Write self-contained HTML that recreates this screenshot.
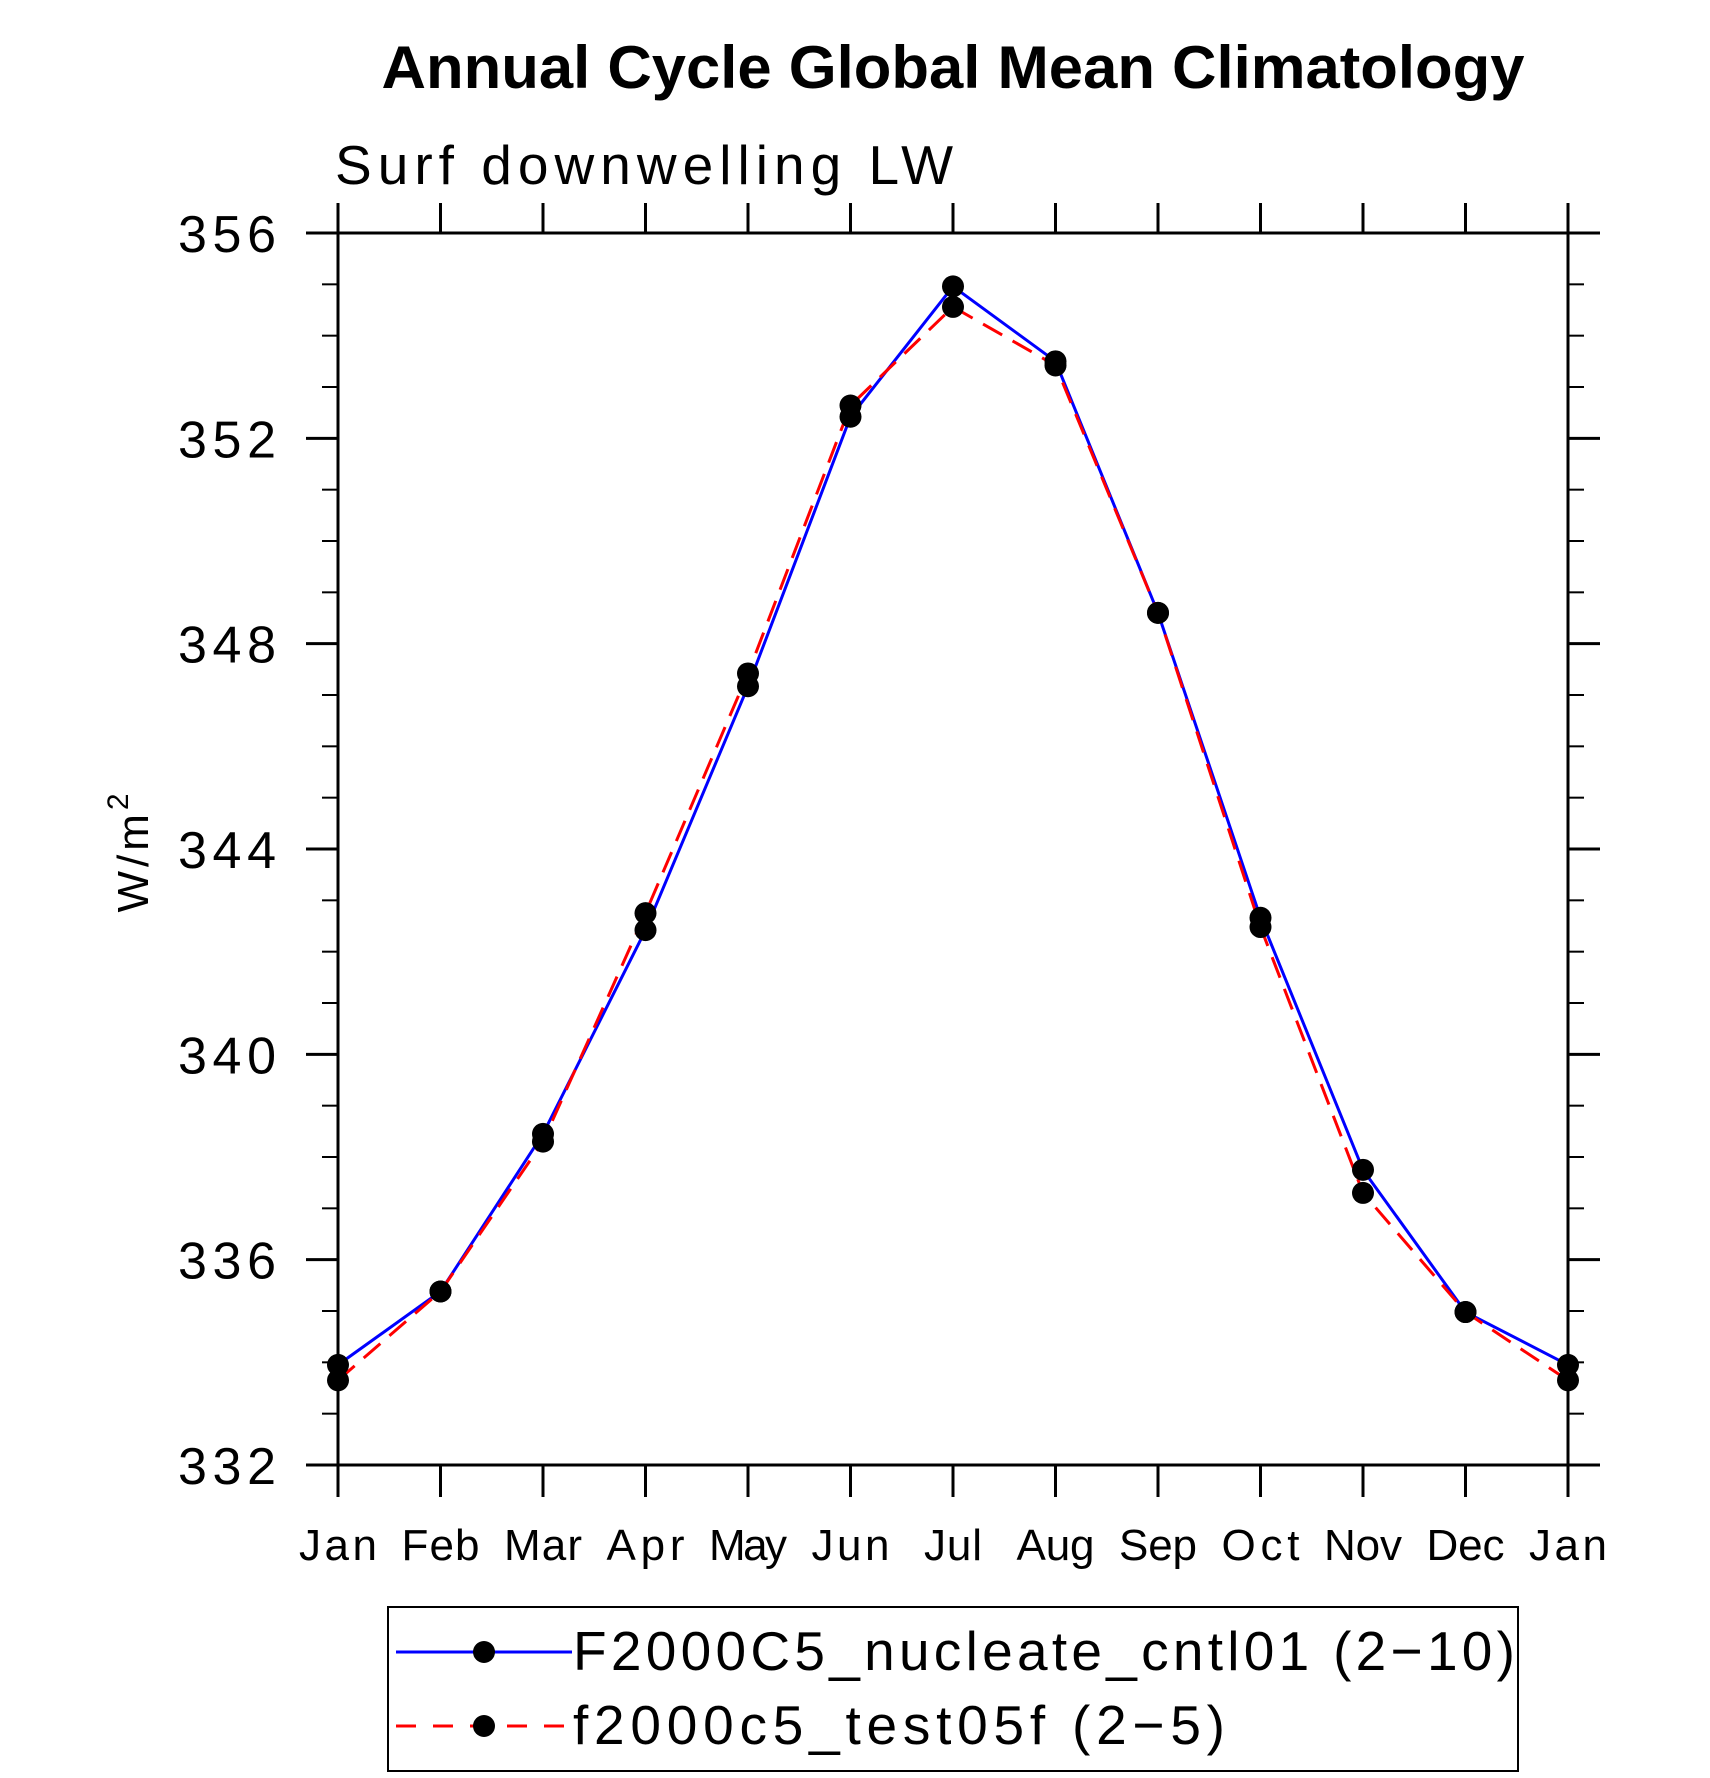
<!DOCTYPE html>
<html><head><meta charset="utf-8"><style>
html,body{margin:0;padding:0;background:#fff;}
svg{display:block;}
text{font-family:"Liberation Sans",sans-serif;}
</style></head><body>
<svg id="chart" width="1710" height="1778" viewBox="0 0 1710 1778" xmlns="http://www.w3.org/2000/svg">
<text x="953" y="88" text-anchor="middle" font-size="60" font-weight="bold" textLength="1143" lengthAdjust="spacingAndGlyphs">Annual Cycle Global Mean Climatology</text>
<text x="335" y="184" font-size="55" font-weight="300" textLength="618" lengthAdjust="spacing">Surf downwelling LW</text>
<text transform="translate(148,851) rotate(-90)" text-anchor="middle" font-size="44" letter-spacing="4">W/m<tspan dy="-20" font-size="30">2</tspan></text>
<g id="axes"></g>
<g id="series"></g>
<g>
<rect x="388" y="1607" width="1130" height="164" fill="none" stroke="#000" stroke-width="2"/>
<line x1="396" y1="1652" x2="572" y2="1652" stroke="#00f" stroke-width="3"/>
<circle cx="484" cy="1652" r="11" fill="#000"/>
<text x="573" y="1670" font-size="55" textLength="942" lengthAdjust="spacing">F2000C5_nucleate_cntl01 (2−10)</text>
<line x1="396" y1="1726" x2="572" y2="1726" stroke="#f00" stroke-width="3" stroke-dasharray="20,17"/>
<circle cx="484" cy="1726" r="11" fill="#000"/>
<text x="573" y="1744" font-size="55" textLength="652" lengthAdjust="spacing">f2000c5_test05f (2−5)</text>
</g>
</svg>
<script>
const months = ["Jan","Feb","Mar","Apr","May","Jun","Jul","Aug","Sep","Oct","Nov","Dec","Jan"];
const cntlValues = [333.95,335.38,338.45,342.42,347.17,352.42,354.96,353.5,348.6,342.66,337.75,334.98,333.95];
const testValues = [333.65,335.38,338.3,342.75,347.42,352.64,354.56,353.42,348.6,342.48,337.3,334.98,333.65];
const yTicks = [332,336,340,344,348,352,356];
const yMin = 332, yMax = 356;
const L=338,R=1568,T=233,B=1465;
const NS="http://www.w3.org/2000/svg";
function xs(i){return L+(R-L)*i/(months.length-1);}
function ys(v){return B-(B-T)*(v-yMin)/(yMax-yMin);}
function mk(tag,attrs,parent){const e=document.createElementNS(NS,tag);for(const k in attrs)e.setAttribute(k,attrs[k]);parent.appendChild(e);return e;}
const axes=document.getElementById('axes');
const fr=mk('rect',{x:L,y:T,width:R-L,height:B-T,fill:'none',stroke:'#000','stroke-width':3},axes);


for(let v=yMin;v<=yMax;v++){
  const major=(v-yMin)%4===0;const len=major?32:16;const y=ys(v);
  const a=mk('line',{x1:L-len,y1:y,x2:L,y2:y,stroke:'#000','stroke-width':major?3:2},axes);
  
  
  const b=mk('line',{x1:R,y1:y,x2:R+len,y2:y,stroke:'#000','stroke-width':major?3:2},axes);
  
  
}
yTicks.forEach(v=>{
  const t=mk('text',{x:276,y:ys(v)+19,'text-anchor':'end','font-size':52,'font-weight':300,textLength:98,lengthAdjust:'spacing'},axes);
  t.textContent=v;
  
  
});
months.forEach((m,i)=>{
  const x=xs(i);
  const a=mk('line',{x1:x,y1:B,x2:x,y2:B+32,stroke:'#000','stroke-width':3},axes);
  
  
  const b=mk('line',{x1:x,y1:T-30,x2:x,y2:T,stroke:'#000','stroke-width':3},axes);
  
  
  const t=mk('text',{x:x,y:1560,'text-anchor':'middle','font-size':44,'font-weight':300,textLength:(m==='Jul'?58:78),lengthAdjust:'spacing'},axes);
  t.textContent=m;
  
  
});
const ser=document.getElementById('series');
function draw(vals,color,dash,name){
  const pts=vals.map((v,i)=>xs(i)+','+ys(v)).join(' ');
  const p=mk('polyline',{points:pts,fill:'none',stroke:color,'stroke-width':3},ser);
  if(dash)p.setAttribute('stroke-dasharray',dash);
  
  
}
function dots(vals,name){
  vals.forEach((v,i)=>{
    const c=mk('circle',{cx:xs(i),cy:ys(v),r:11,fill:'#000'},ser);
    
    
  });
}
draw(cntlValues,'#00f',null,'cntl');
draw(testValues,'#f00','22,12','test');
dots(cntlValues,'cntl');
dots(testValues,'test');
</script>
</body></html>
